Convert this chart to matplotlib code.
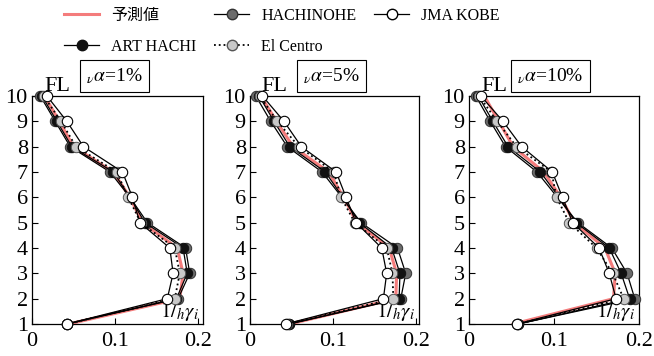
import numpy as np
import matplotlib.pyplot as plt
from matplotlib.lines import Line2D

plt.rcParams['font.family'] = ['Liberation Serif', 'Noto Sans CJK JP']
plt.rcParams['mathtext.fontset'] = 'stix'

floors = [1, 2, 3, 4, 5, 6, 7, 8, 9, 10]
alphas = ['1%', '5%', '10%']

# values per panel, floor 1 -> 10
pred = [
    [0.044, 0.178, 0.182, 0.175, 0.133, 0.118, 0.098, 0.050, 0.033, 0.015],
    [0.048, 0.176, 0.177, 0.168, 0.129, 0.113, 0.095, 0.052, 0.032, 0.013],
    [0.052, 0.170, 0.172, 0.160, 0.124, 0.108, 0.088, 0.052, 0.035, 0.018],
]
hachinohe = [
    [0.042, 0.176, 0.190, 0.185, 0.139, 0.118, 0.094, 0.046, 0.028, 0.010],
    [0.047, 0.182, 0.188, 0.178, 0.134, 0.111, 0.087, 0.045, 0.025, 0.007],
    [0.058, 0.195, 0.186, 0.168, 0.128, 0.104, 0.080, 0.043, 0.025, 0.008],
]
art_hachi = [
    [0.042, 0.174, 0.187, 0.182, 0.136, 0.118, 0.098, 0.048, 0.030, 0.012],
    [0.047, 0.180, 0.181, 0.171, 0.132, 0.112, 0.091, 0.048, 0.029, 0.011],
    [0.058, 0.189, 0.179, 0.165, 0.126, 0.106, 0.084, 0.046, 0.028, 0.011],
]
el_centro = [
    [0.042, 0.172, 0.178, 0.172, 0.131, 0.116, 0.102, 0.053, 0.035, 0.014],
    [0.045, 0.173, 0.172, 0.165, 0.1265, 0.110, 0.101, 0.059, 0.033, 0.012],
    [0.057, 0.182, 0.169, 0.150, 0.118, 0.103, 0.097, 0.056, 0.033, 0.012],
]
jma_kobe = [
    [0.042, 0.163, 0.170, 0.166, 0.130, 0.121, 0.109, 0.062, 0.042, 0.018],
    [0.043, 0.161, 0.165, 0.159, 0.128, 0.116, 0.104, 0.062, 0.041, 0.015],
    [0.056, 0.173, 0.165, 0.153, 0.122, 0.110, 0.098, 0.062, 0.040, 0.014],
]

red = '#f47c7c'
fig = plt.figure(figsize=(6.54, 3.56), dpi=100)

lefts = [32, 250, 469]
widths = [171, 169, 170]
xmax = [0.206, 0.204, 0.2]

for i in range(3):
    ax = fig.add_axes([lefts[i] / 654, 32 / 356, widths[i] / 654, 228 / 356])
    ax.plot(pred[i], floors, color=red, lw=2.2, zorder=2)
    ms = 7.5
    ax.plot(hachinohe[i], floors, '-o', color='k', lw=0.9, mfc='#6b6b6b', mec='#333333',
            ms=ms, mew=0.7, zorder=3, clip_on=False)
    ax.plot(art_hachi[i], floors, '-o', color='k', lw=0.9, mfc='#111111', mec='#111111',
            ms=ms, mew=0.7, zorder=4, clip_on=False)
    ax.plot(el_centro[i], floors, ':o', color='k', lw=1.3, mfc='#c8c8c8', mec='#555555',
            ms=ms, mew=0.7, zorder=5, clip_on=False)
    ax.plot(jma_kobe[i], floors, '-o', color='k', lw=0.9, mfc='white', mec='k',
            ms=ms, mew=0.8, zorder=6, clip_on=False)

    ax.set_xlim(0, xmax[i])
    ax.set_ylim(1, 10)
    ax.set_xticks([0, 0.1, 0.2])
    ax.set_xticklabels(['0', '0.1', '0.2'])
    ax.set_yticks(floors)
    ax.tick_params(direction='in', length=4, width=0.8, labelsize=16, pad=3)
    ax.tick_params(axis='x', pad=6)
    for s in ax.spines.values():
        s.set_linewidth(0.9)

    ax.text(0.07, 1.0, 'FL', transform=ax.transAxes, fontsize=16,
            ha='left', va='bottom')
    ax.text(0.48, 1.088, r'$_{\nu}\alpha$=' + alphas[i], transform=ax.transAxes,
            fontsize=14, ha='center', va='center',
            bbox=dict(boxstyle='square,pad=0.32', fc='white', ec='k', lw=0.8))
    ax.text(0.98, 0.005, r'$1/_{h}\gamma_{i}$', transform=ax.transAxes,
            fontsize=15, ha='right', va='bottom')

handles = [
    Line2D([], [], color=red, lw=2.2),
    Line2D([], [], color='k', lw=0.9, marker='o', mfc='#111111', mec='#111111', ms=7.5),
    Line2D([], [], color='k', lw=0.9, marker='o', mfc='#6b6b6b', mec='#333333', ms=7.5),
    Line2D([], [], color='k', lw=1.3, ls=':', marker='o', mfc='#c8c8c8', mec='#555555', ms=7.5),
    Line2D([], [], color='k', lw=0.9, marker='o', mfc='white', mec='k', ms=7.5),
]
labels = ['予測値', 'ART HACHI', 'HACHINOHE', 'El Centro', 'JMA KOBE']
fig.legend(handles, labels, ncol=3, loc='upper left', bbox_to_anchor=(53 / 654, 1.01),
           frameon=False, fontsize=11.5, handlelength=2.2, handletextpad=0.75,
           columnspacing=1.1, labelspacing=0.95, borderpad=0.2)

fig.savefig('out.png', dpi=100)
